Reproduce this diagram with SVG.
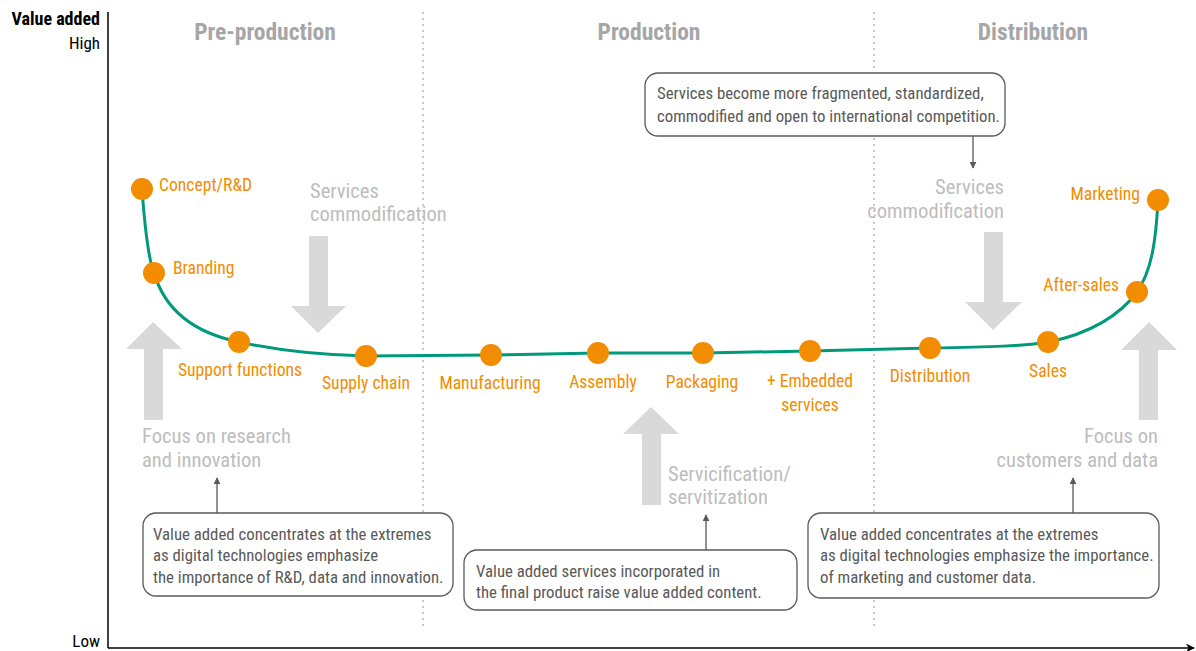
<svg xmlns="http://www.w3.org/2000/svg" width="1196" height="651" viewBox="0 0 1196 651">
<defs>
<style>
text{font-family:"Liberation Sans Narrow","Roboto Condensed","DejaVu Sans Condensed","Liberation Sans",sans-serif}
.ax{font-size:17px;fill:#000}
.axb{font-size:18px;fill:#000;font-weight:bold}
.hd{font-size:23.5px;fill:#a6a6a6;font-weight:bold;text-anchor:middle}
.gl{font-size:20.6px;fill:#bdbdbd}
.nl{font-size:17.6px;fill:#f28c00}
.cl{font-size:16.8px;fill:#595959}
.dot{fill:#f28c00}
.box{fill:#fff;stroke:#595959;stroke-width:1.3}
.lead{stroke:#595959;stroke-width:1.3;fill:none}
.garrow{fill:#d9d9d9}
.sep{stroke:#c8c8c8;stroke-width:2;stroke-dasharray:2 4}
</style>
<marker id="ah" viewBox="0 0 10 10" refX="9" refY="5" markerWidth="7" markerHeight="7" orient="auto" markerUnits="userSpaceOnUse"><path d="M0,0 L10,5 L0,10 z" fill="#595959"/></marker>
<marker id="axh" viewBox="0 0 10 10" refX="9" refY="5" markerWidth="9" markerHeight="9" orient="auto" markerUnits="userSpaceOnUse"><path d="M0,0 L10,5 L0,10 L3,5 z" fill="#000"/></marker>
</defs>
<rect width="1196" height="651" fill="#fff"/>

<g id="axes">
<line x1="108" y1="12" x2="108" y2="648" stroke="#000" stroke-width="1.5"/>
<line x1="108" y1="648" x2="1194" y2="648" stroke="#000" stroke-width="1.5" marker-end="url(#axh)"/>
<text class="axb" x="100" y="25" text-anchor="end">Value added</text>
<text class="ax" x="100" y="49" text-anchor="end">High</text>
<text class="ax" x="100" y="647" text-anchor="end">Low</text>
</g>

<g id="separators">
<line class="sep" x1="423" y1="12" x2="423" y2="626"/>
<line class="sep" x1="874" y1="12" x2="874" y2="626"/>
</g>

<g id="headings">
<text class="hd" x="265" y="40">Pre-production</text>
<text class="hd" x="649" y="40">Production</text>
<text class="hd" x="1033" y="40">Distribution</text>
</g>

<g id="gray-arrows">
<polygon class="garrow" points="144,420 163,420 163,349 182,349 153,322 126,349 144,349"/>
<polygon class="garrow" points="309,236 328,236 328,306 346,306 318,333 291,306 309,306"/>
<polygon class="garrow" points="642,505 661,505 661,434 679,434 651,407 623,434 642,434"/>
<polygon class="garrow" points="984,232 1003,232 1003,302 1022,302 993,330 965,302 984,302"/>
<polygon class="garrow" points="1139,420 1158,420 1158,350 1177,350 1149,322 1121,350 1139,350"/>
</g>

<g id="gray-labels">
<text class="gl" x="310" y="198">Services</text>
<text class="gl" x="310" y="221">commodification</text>
<text class="gl" x="1004" y="194" text-anchor="end">Services</text>
<text class="gl" x="1004" y="218" text-anchor="end">commodification</text>
<text class="gl" x="142" y="443">Focus on research</text>
<text class="gl" x="142" y="467">and innovation</text>
<text class="gl" x="668" y="481">Servicification/</text>
<text class="gl" x="668" y="504">servitization</text>
<text class="gl" x="1158" y="443" text-anchor="end">Focus on</text>
<text class="gl" x="1158" y="467" text-anchor="end">customers and data</text>
</g>

<g id="connectors">
<path d="M142,189 C145,230 148,258 154,273 C165,310 195,333 239,342 C280,351 320,355 366,356 L491,355 L598,353 L703,353 L810,351 L930,348 C990,347 1025,346 1048,342 C1090,334 1120,315 1137,292 C1152,270 1156,240 1158,200" fill="none" stroke="#009a7a" stroke-width="3"/>
<line class="lead" x1="973" y1="136" x2="973" y2="168" marker-end="url(#ah)"/>
<line class="lead" x1="217" y1="513" x2="217" y2="478" marker-end="url(#ah)"/>
<line class="lead" x1="706" y1="550" x2="706" y2="515" marker-end="url(#ah)"/>
<line class="lead" x1="1073" y1="513" x2="1073" y2="478" marker-end="url(#ah)"/>
</g>

<g id="node-concept"><circle class="dot" cx="142" cy="189" r="11"/><text class="nl" x="159" y="191">Concept/R&amp;D</text></g>
<g id="node-branding"><circle class="dot" cx="154" cy="273" r="11"/><text class="nl" x="173" y="274">Branding</text></g>
<g id="node-support"><circle class="dot" cx="239" cy="342" r="11"/><text class="nl" x="240" y="376" text-anchor="middle">Support functions</text></g>
<g id="node-supply"><circle class="dot" cx="366" cy="356" r="11"/><text class="nl" x="366" y="389" text-anchor="middle">Supply chain</text></g>
<g id="node-manufacturing"><circle class="dot" cx="491" cy="355" r="11"/><text class="nl" x="490" y="389" text-anchor="middle">Manufacturing</text></g>
<g id="node-assembly"><circle class="dot" cx="598" cy="353" r="11"/><text class="nl" x="603" y="388" text-anchor="middle">Assembly</text></g>
<g id="node-packaging"><circle class="dot" cx="703" cy="353" r="11"/><text class="nl" x="702" y="388" text-anchor="middle">Packaging</text></g>
<g id="node-embedded"><circle class="dot" cx="810" cy="351" r="11"/><text class="nl" x="810" y="387" text-anchor="middle">+ Embedded</text><text class="nl" x="810" y="411" text-anchor="middle">services</text></g>
<g id="node-distribution"><circle class="dot" cx="930" cy="348" r="11"/><text class="nl" x="930" y="382" text-anchor="middle">Distribution</text></g>
<g id="node-sales"><circle class="dot" cx="1048" cy="342" r="11"/><text class="nl" x="1048" y="377" text-anchor="middle">Sales</text></g>
<g id="node-aftersales"><circle class="dot" cx="1137" cy="292" r="11"/><text class="nl" x="1119" y="291" text-anchor="end">After-sales</text></g>
<g id="node-marketing"><circle class="dot" cx="1158" cy="200" r="11"/><text class="nl" x="1140" y="200" text-anchor="end">Marketing</text></g>

<g id="callout-top">
<rect class="box" x="645" y="73" width="360" height="63" rx="13"/>
<text class="cl" x="657" y="99">Services become more fragmented, standardized,</text>
<text class="cl" x="657" y="122">commodified and open to international competition.</text>
</g>
<g id="callout-left">
<rect class="box" x="143" y="513" width="310" height="83" rx="13"/>
<text class="cl" x="153" y="540">Value added concentrates at the extremes</text>
<text class="cl" x="153" y="561">as digital technologies emphasize</text>
<text class="cl" x="153" y="583">the importance of R&amp;D, data and innovation.</text>
</g>
<g id="callout-middle">
<rect class="box" x="464" y="550" width="333" height="60" rx="13"/>
<text class="cl" x="476" y="577">Value added services incorporated in</text>
<text class="cl" x="476" y="598">the final product raise value added content.</text>
</g>
<g id="callout-right">
<rect class="box" x="808" y="513" width="351" height="85" rx="13"/>
<text class="cl" x="820" y="540">Value added concentrates at the extremes</text>
<text class="cl" x="820" y="561">as digital technologies emphasize the importance.</text>
<text class="cl" x="820" y="583">of marketing and customer data.</text>
</g>
</svg>
